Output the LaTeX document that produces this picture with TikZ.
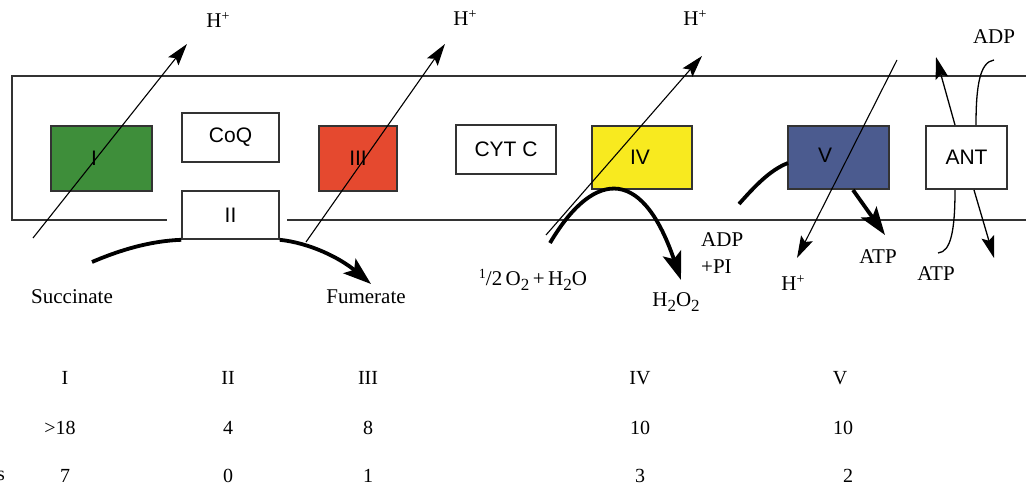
\documentclass[tikz,border=0pt]{standalone}
\usepackage{fontspec}
\setmainfont{Liberation Serif}
\newfontfamily\boxfont{Liberation Sans}
\usetikzlibrary{arrows.meta}
\definecolor{cgreen}{HTML}{3E8E3A}
\definecolor{cred}{HTML}{E5492F}
\definecolor{cyellow}{HTML}{F8EA1F}
\definecolor{cblue}{HTML}{4B5B8F}
\definecolor{cborder}{HTML}{333333}
\newcommand\lowsub[1]{\raisebox{-5pt}{\fontsize{17}{17}\selectfont #1}}
\newcommand\hisup[1]{\raisebox{7pt}{\fontsize{14}{14}\selectfont #1}}
\tikzset{
  cplx/.style={draw=cborder, line width=1.6pt, inner sep=0pt, font=\boxfont\fontsize{21}{24}\selectfont},
  lbl/.style={inner sep=0pt, font=\fontsize{21}{24}\selectfont},
  tbl/.style={inner sep=0pt, font=\fontsize{20}{24}\selectfont},
  proton/.style={line width=1.1pt, -{Stealth[length=22pt,width=13pt,inset=4pt]}},
  flow/.style={line width=3.8pt},
  flowarrow/.style={line width=3.8pt, -{Stealth[length=28pt,width=19pt,inset=6pt]}},
  ant/.style={line width=1.3pt},
  antarrow/.style={line width=1.3pt, -{Stealth[length=22pt,width=13pt,inset=4pt]}},
  membrane/.style={line width=1.6pt, draw=cborder}
}
\begin{document}
\begin{tikzpicture}[x=1pt,y=-1pt]
\useasboundingbox (0,0) rectangle (1026,490);
% membrane
\draw[membrane] (1026,76) -- (12,76) -- (12,220) -- (167,220);
\draw[membrane] (287,220) -- (1026,220);
% complexes
\node[cplx, fill=cgreen, minimum width=101pt, minimum height=65pt] (I) at (101.5,158.5) {};
\node[cplx, fill=white, minimum width=97pt, minimum height=49pt] (CoQ) at (230.5,137.5) {CoQ};
\node[cplx, fill=white, minimum width=97pt, minimum height=48pt] (II) at (230.5,215) {II};
\node[cplx, fill=cred, minimum width=78pt, minimum height=65pt] (III) at (358,158.5) {};
\node[cplx, fill=white, minimum width=100pt, minimum height=49pt] (CYT) at (506,149.5) {CYT C};
\node[cplx, fill=cyellow, minimum width=100pt, minimum height=63pt] (IV) at (642,157.5) {};
\node[cplx, fill=cblue, minimum width=101pt, minimum height=63pt] (V) at (838.5,157.5) {};
\node[cplx, fill=white, minimum width=81pt, minimum height=63pt] (ANT) at (966.5,157.5) {ANT};
\node[cplx, draw=none] (Ilab) at (94,158) {I};
\node[cplx, draw=none] (IIIlab) at (358,158) {III};
\node[cplx, draw=none] (IVlab) at (640,157) {IV};
\node[cplx, draw=none] (Vlab) at (825,155) {V};
% coordinates
\coordinate (p1s) at (33,238);  \coordinate (p1e) at (187,44);
\coordinate (p2s) at (306,242); \coordinate (p2e) at (445,44);
\coordinate (p3s) at (546,235); \coordinate (p3e) at (702,56);
\coordinate (p5s) at (897,60);  \coordinate (p5e) at (797,258);
\coordinate (succ) at (92,262); \coordinate (fum) at (371,284);
\coordinate (o2) at (550,243);  \coordinate (h2o2) at (681,280);
\coordinate (adp) at (739,204); \coordinate (vin) at (788,163);
\coordinate (vout) at (853,190); \coordinate (atp) at (885,235);
\coordinate (a1s) at (955,125); \coordinate (a1e) at (936,57);
\coordinate (a2s) at (976,125); \coordinate (a2e) at (994,60);
\coordinate (a3s) at (955,190); \coordinate (a3e) at (938,253);
\coordinate (a4s) at (974,190); \coordinate (a4e) at (994,258);
% thick flows
\draw[flow] (succ) .. controls (120,250) and (150,241) .. (II.south west);
\draw[flowarrow] (II.south east) .. controls (310,243) and (340,258) .. (fum);
\draw[flowarrow] (o2) .. controls (590,175) and (640,160) .. (h2o2);
\draw[flow] (adp) .. controls (755,186) and (770,170) .. (vin);
\draw[flowarrow] (vout) -- (atp);
% proton arrows
\draw[proton] (p1s) -- (p1e);
\draw[proton] (p2s) -- (p2e);
\draw[proton] (p3s) -- (p3e);
\draw[proton] (p5s) -- (p5e);
% ANT
\draw[antarrow] (a1s) -- (a1e);
\draw[ant] (a2s) .. controls (976,85) and (980,62) .. (a2e);
\draw[ant] (a3s) .. controls (955,230) and (951,252) .. (a3e);
\draw[antarrow] (a4s) -- (a4e);
% labels
\node[lbl] (h1) at (218,20) {H\hisup{+}};
\node[lbl] (h2) at (465,18) {H\hisup{+}};
\node[lbl] (h3) at (695,18) {H\hisup{+}};
\node[lbl] (h5) at (793,283) {H\hisup{+}};
\node[lbl] (succlab) at (72,297) {Succinate};
\node[lbl] (fumlab) at (366,297) {Fumerate};
\node[lbl] (o2lab) at (533,280) {\hisup{1}/2\,O\lowsub{2}\,+\,H\lowsub{2}O};
\node[lbl] (h2o2lab) at (676,302) {H\lowsub{2}O\lowsub{2}};
\node[lbl, anchor=west, align=left] (adplab) at (701,253) {ADP\\[3pt]+PI};
\node[lbl] (atp1) at (878,257) {ATP};
\node[lbl] (atp2) at (936,274) {ATP};
\node[lbl] (adp2) at (994,37) {ADP};
% table
\node[tbl] (t11) at (65,378) {I};
\node[tbl] (t12) at (228,378) {II};
\node[tbl] (t13) at (368,378) {III};
\node[tbl] (t14) at (640,378) {IV};
\node[tbl] (t15) at (840,378) {V};
\node[tbl] (t21) at (60,428) {>18};
\node[tbl] (t22) at (228,428) {4};
\node[tbl] (t23) at (368,428) {8};
\node[tbl] (t24) at (640,428) {10};
\node[tbl] (t25) at (843,428) {10};
\node[tbl] (t30) at (1,476) {s};
\node[tbl] (t31) at (65,476) {7};
\node[tbl] (t32) at (228,476) {0};
\node[tbl] (t33) at (368,476) {1};
\node[tbl] (t34) at (640,476) {3};
\node[tbl] (t35) at (848,476) {2};
\end{tikzpicture}
\end{document}
